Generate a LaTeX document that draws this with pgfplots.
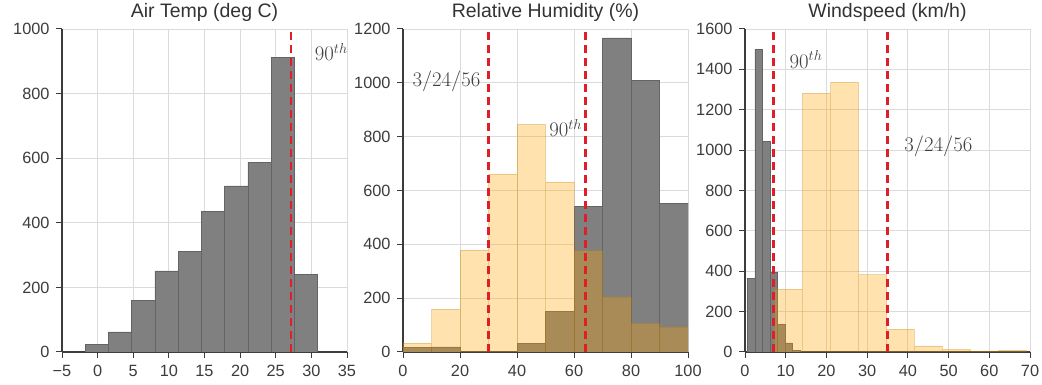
\documentclass[border=0pt]{standalone}
\usepackage[no-math]{fontspec}
\setmainfont{Liberation Sans}
\usepackage{pgfplots}
\pgfplotsset{compat=1.18}

\definecolor{histgray}{RGB}{128,128,128}
\definecolor{histedge}{RGB}{100,100,100}
\definecolor{hor}{RGB}{255,165,0}
\definecolor{vline}{RGB}{222,30,40}
\definecolor{axcol}{RGB}{60,60,60}
\definecolor{txtcol}{RGB}{60,60,60}

\tikzset{lab/.style={anchor=base west, font=\fontsize{20}{24}\selectfont, text=black!75}}

\pgfplotsset{
  hist/.style={
    scale only axis, width=285pt, height=323pt, anchor=south west,
    axis lines*=left,
    axis line style={axcol, line width=1.1pt},
    tick align=outside, major tick length=6pt,
    tick style={axcol, line width=1pt},
    grid=major, grid style={black!14, line width=0.8pt},
    ticklabel style={font=\fontsize{16.3}{19}\selectfont, text=txtcol},
    xticklabel style={yshift=-4pt},
    yticklabel style={xshift=-3pt},
    title style={font=\fontsize{19.5}{23}\selectfont, text=black!80, at={(0.5,1)}, anchor=base, yshift=5pt},
    /pgf/number format/assume math mode=true,
    /pgf/number format/1000 sep={},
  },
  grayhist/.style={ybar interval, fill=histgray, draw=histedge, line width=0.6pt},
  orhist/.style={ybar interval, fill=hor, draw=hor!70!black, fill opacity=0.32, draw opacity=0.25, line width=0.5pt},
  pline/.style={vline, line width=2.6pt, dash pattern=on 8pt off 5pt},
}

\begin{document}
\begin{tikzpicture}
\useasboundingbox (0,0) rectangle (1042pt,385pt);

% Panel 1
\begin{axis}[hist, at={(62pt,33pt)},
  xmin=-5, xmax=35, ymin=0, ymax=1000,
  xtick={-5,0,5,10,15,20,25,30,35},
  xticklabels={−5,0,5,10,15,20,25,30,35},
  ytick={0,200,400,600,800,1000},
  title={Air Temp (deg C)}]
\addplot[grayhist] coordinates {(-1.77,24) (1.50,62) (4.76,160) (8.03,251) (11.29,311) (14.56,436) (17.82,514) (21.09,588) (24.35,913) (27.62,240) (30.88,0)};
\addplot[pline] coordinates {(27.14,0) (27.14,1000)};
\node[lab] at (axis cs:30.0,901) {$90^{th}$};
\end{axis}

% Panel 2
\begin{axis}[hist, at={(403pt,33pt)},
  xmin=0, xmax=100, ymin=0, ymax=1200,
  xtick={0,20,40,60,80,100},
  ytick={0,200,400,600,800,1000,1200},
  title={Relative Humidity (\%)}]
\addplot[grayhist] coordinates {(0,16) (10,19) (20,0) (30,0) (40,31) (50,150) (60,541) (70,1167) (80,1009) (90,553) (100,0)};
\addplot[orhist] coordinates {(0,33) (10,159) (20,379) (30,662) (40,846) (50,632) (60,377) (70,205) (80,106) (90,93) (100,0)};
\addplot[pline] coordinates {(30.1,0) (30.1,1200)};
\addplot[pline] coordinates {(64.1,0) (64.1,1200)};
\node[lab] at (axis cs:2.1,988) {$3/24/56$};
\node[lab] at (axis cs:50.1,800) {$90^{th}$};
\end{axis}

% Panel 3
\begin{axis}[hist, at={(745pt,33pt)},
  xmin=0, xmax=70, ymin=0, ymax=1600,
  xtick={0,10,20,30,40,50,60,70},
  ytick={0,200,400,600,800,1000,1200,1400,1600},
  title={Windspeed (km/h)}]
\addplot[grayhist] coordinates {(0.6,365) (2.44,1500) (4.28,1045) (6.12,397) (7.96,136) (9.80,45) (11.64,7) (13.48,0)};
\addplot[orhist] coordinates {(7.2,312) (14.1,1282) (21.0,1337) (27.9,383) (34.8,113) (41.6,30) (48.5,13) (55.4,5) (62.3,8) (69.2,0)};
\addplot[pline] coordinates {(6.95,0) (6.95,1600)};
\addplot[pline] coordinates {(35.0,0) (35.0,1600)};
\node[lab] at (axis cs:10.1,1405) {$90^{th}$};
\node[lab] at (axis cs:38.3,992) {$3/24/56$};
\end{axis}
\end{tikzpicture}
\end{document}
